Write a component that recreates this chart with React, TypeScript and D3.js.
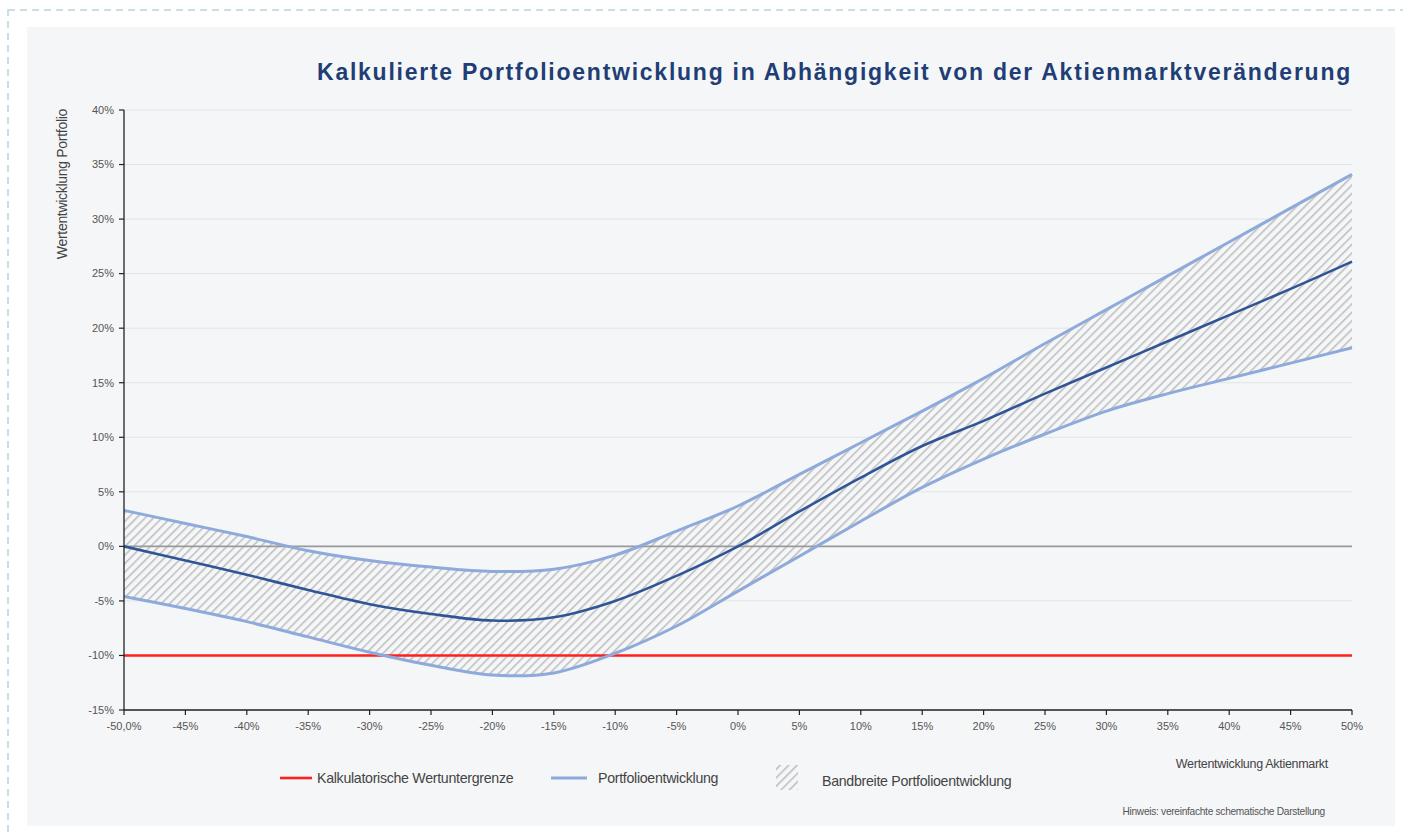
import React from "react";
import * as d3 from "d3";

const marketX = [-50, -45, -40, -35, -30, -25, -20, -15, -10, -5, 0, 5, 10, 15, 20, 25, 30, 35, 40, 45, 50];
const upperBand = [3.3, 2.1, 0.9, -0.4, -1.3, -1.9, -2.3, -2.1, -0.8, 1.4, 3.7, 6.6, 9.5, 12.4, 15.4, 18.6, 21.7, 24.8, 27.9, 31.0, 34.1];
const portfolio = [0, -1.3, -2.6, -4.0, -5.3, -6.2, -6.8, -6.5, -5.0, -2.7, 0, 3.2, 6.3, 9.2, 11.5, 14.0, 16.4, 18.8, 21.2, 23.6, 26.1];
const lowerBand = [-4.6, -5.7, -6.9, -8.3, -9.7, -10.9, -11.8, -11.6, -9.8, -7.3, -4.1, -0.9, 2.3, 5.4, 8.0, 10.3, 12.4, 14.0, 15.4, 16.8, 18.2];
const floorValue = -10;
const yTicks = [-15, -10, -5, 0, 5, 10, 15, 20, 25, 30, 35, 40];
const xTicks = [-50, -45, -40, -35, -30, -25, -20, -15, -10, -5, 0, 5, 10, 15, 20, 25, 30, 35, 40, 45, 50];

const title = "Kalkulierte Portfolioentwicklung in Abhängigkeit von der Aktienmarktveränderung";
const legendItems = ["Kalkulatorische Wertuntergrenze", "Portfolioentwicklung", "Bandbreite Portfolioentwicklung"];

const W = 1403;
const H = 834;
const plot = { left: 124, right: 1352, top: 110, bottom: 710 };
const font = "'Liberation Sans', Arial, sans-serif";

export default function App() {
  const x = d3.scaleLinear().domain([-50, 50]).range([plot.left, plot.right]);
  const y = d3.scaleLinear().domain([-15, 40]).range([plot.bottom, plot.top]);

  const line = d3
    .line<number>()
    .x((_, i) => x(marketX[i]))
    .y((d) => y(d))
    .curve(d3.curveCatmullRom.alpha(0.5));

  const area = d3
    .area<number>()
    .x((_, i) => x(marketX[i]))
    .y0((_, i) => y(lowerBand[i]))
    .y1((d) => y(d))
    .curve(d3.curveCatmullRom.alpha(0.5));

  const xLabel = (v: number) => (v === -50 ? "-50,0%" : `${v}%`);

  return (
    <svg
      width={W}
      height={H}
      style={{ position: "absolute", left: 0, top: 0, background: "#fff" }}
      fontFamily={font}
    >
      <defs>
        <pattern id="hatch" patternUnits="userSpaceOnUse" width="6" height="6" patternTransform="rotate(45)">
          <rect width="6" height="6" fill="#f5f6f8" />
          <line x1="0" y1="0" x2="0" y2="6" stroke="#bdbdbd" strokeWidth="3" />
        </pattern>
      </defs>

      {/* dashed frame */}
      <rect x={8} y={10} width={W + 20} height={H + 20} fill="none" stroke="#b8d3df" strokeWidth={1.5} strokeDasharray="7,5" />
      {/* panel */}
      <rect x={27} y={27} width={1368} height={799} fill="#f5f6f8" />

      <text x={plot.right} y={80} textAnchor="end" fontSize={23} fontWeight="bold" fill="#1f3e76" letterSpacing={1.75}>
        {title}
      </text>

      {/* grid */}
      {yTicks.map((t) => (
        <line key={"g" + t} x1={plot.left} x2={plot.right} y1={y(t)} y2={y(t)} stroke="#e2e3e5" strokeWidth={1} />
      ))}

      {/* band */}
      <path d={area(upperBand) ?? ""} fill="url(#hatch)" />

      {/* zero line */}
      <line x1={plot.left} x2={plot.right} y1={y(0)} y2={y(0)} stroke="#9a9a9a" strokeWidth={1.6} />

      {/* floor */}
      <line x1={x(-50)} x2={x(50)} y1={y(floorValue)} y2={y(floorValue)} stroke="#ff1f1f" strokeWidth={2.6} />

      <path d={line(upperBand) ?? ""} fill="none" stroke="#8eaadb" strokeWidth={3} />
      <path d={line(lowerBand) ?? ""} fill="none" stroke="#8eaadb" strokeWidth={3} />
      <path d={line(portfolio) ?? ""} fill="none" stroke="#2f5597" strokeWidth={2.6} />

      {/* axes */}
      <line x1={plot.left} x2={plot.left} y1={plot.top} y2={plot.bottom} stroke="#222" strokeWidth={1.3} />
      <line x1={plot.left} x2={plot.right} y1={plot.bottom} y2={plot.bottom} stroke="#222" strokeWidth={1.3} />
      {yTicks.map((t) => (
        <g key={"y" + t}>
          <line x1={plot.left - 5} x2={plot.left} y1={y(t)} y2={y(t)} stroke="#222" strokeWidth={1.2} />
          <text x={plot.left - 10} y={y(t)} dy="0.35em" textAnchor="end" fontSize={11} fill="#555">
            {t}%
          </text>
        </g>
      ))}
      {xTicks.map((t) => (
        <g key={"x" + t}>
          <line x1={x(t)} x2={x(t)} y1={plot.bottom} y2={plot.bottom + 5} stroke="#222" strokeWidth={1.2} />
          <text x={x(t)} y={plot.bottom + 20} textAnchor="middle" fontSize={11} fill="#555">
            {xLabel(t)}
          </text>
        </g>
      ))}

      <text
        transform={`translate(67,109) rotate(-90)`}
        textAnchor="end"
        fontSize={14}
        fill="#444"
        letterSpacing={-0.3}
      >
        Wertentwicklung Portfolio
      </text>
      <text x={1328} y={768} textAnchor="end" fontSize={12.5} fill="#444" letterSpacing={-0.3}>
        Wertentwicklung Aktienmarkt
      </text>

      {/* legend */}
      <line x1={280} x2={312} y1={778} y2={778} stroke="#ff1f1f" strokeWidth={2.6} />
      <text x={317} y={783} fontSize={14.2} fill="#444" letterSpacing={-0.3}>
        {legendItems[0]}
      </text>
      <line x1={551} x2={587} y1={778} y2={778} stroke="#8eaadb" strokeWidth={3} />
      <text x={598} y={783} fontSize={14.2} fill="#444" letterSpacing={-0.3}>
        {legendItems[1]}
      </text>
      <rect x={776} y={765} width={22} height={25} fill="url(#hatch)" />
      <text x={822} y={786} fontSize={14.2} fill="#444" letterSpacing={-0.3}>
        {legendItems[2]}
      </text>

      <text x={1325} y={815} textAnchor="end" fontSize={10.2} fill="#555" letterSpacing={-0.3}>
        Hinweis: vereinfachte schematische Darstellung
      </text>
    </svg>
  );
}
